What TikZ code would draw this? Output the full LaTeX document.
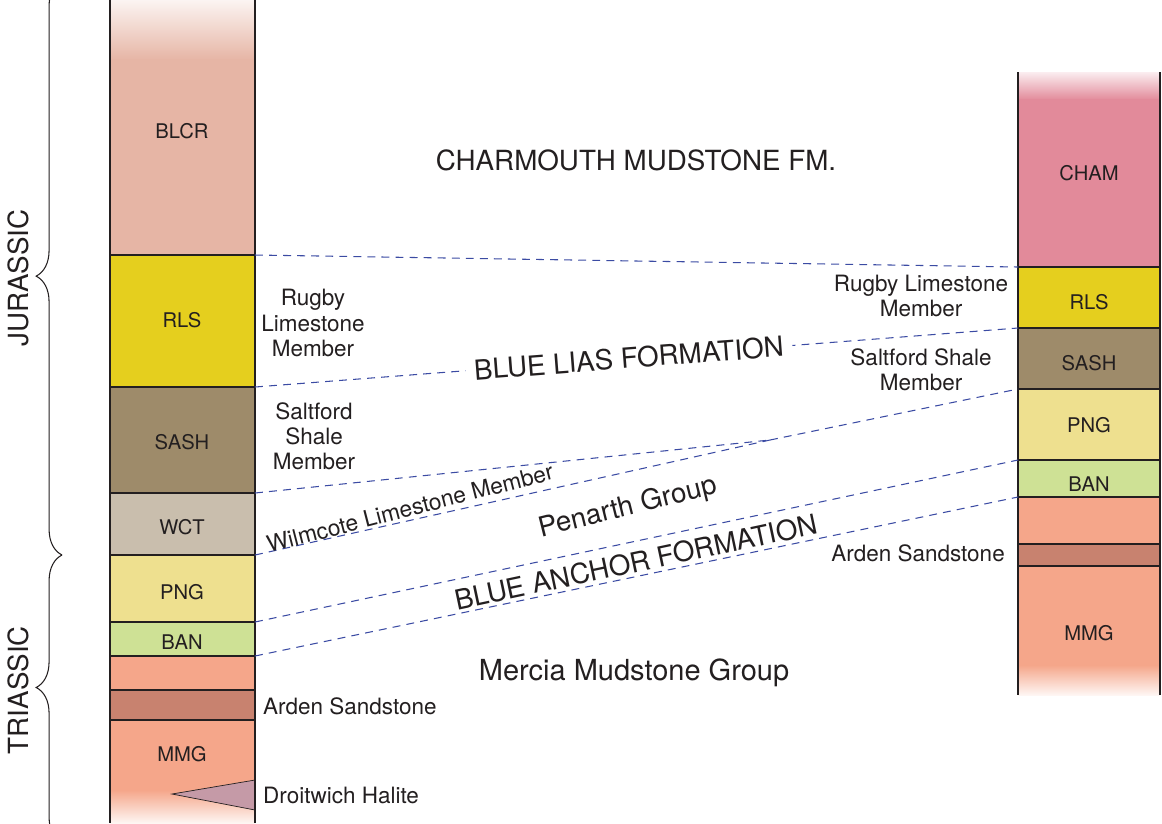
\documentclass[tikz,border=0pt]{standalone}
\usepackage{fontspec}
\setmainfont{TeX Gyre Heros}
\usetikzlibrary{calc,decorations.pathreplacing}

\definecolor{ink}{HTML}{231F20}
\definecolor{corrblue}{HTML}{3B4BA3}
\definecolor{blcr}{HTML}{E6B5A5}
\definecolor{cham}{HTML}{E28A9A}
\definecolor{rls}{HTML}{E5CF1E}
\definecolor{sash}{HTML}{9E8B6A}
\definecolor{wct}{HTML}{C9BEAD}
\definecolor{png}{HTML}{EEE08F}
\definecolor{ban}{HTML}{CEE195}
\definecolor{mmg}{HTML}{F5A68A}
\definecolor{arden}{HTML}{C8826F}
\definecolor{halite}{HTML}{C59AA7}

\begin{document}
\begin{tikzpicture}[x=0.02cm, y=-0.02cm,
    unitlbl/.style={font=\fontsize{11.5}{13}\selectfont, text=ink},
    note/.style={font=\fontsize{12.8}{14.3}\selectfont, text=ink, align=center},
    big/.style={font=\fontsize{15.8}{18}\selectfont, text=ink},
    corr/.style={draw=corrblue, line width=0.6pt, dash pattern=on 4.5pt off 3.5pt},
    edge/.style={draw=ink, line width=1.2pt},
    period/.style={draw=ink, line width=0.6pt, decorate}]
    \useasboundingbox (0,0) rectangle (1162,823);

    % left column
    \shade[top color=blcr!15, bottom color=blcr] (110,0) rectangle (255,60);
    \fill[blcr] (110,59) rectangle (255,255);
    \fill[rls] (110,255) rectangle (255,387);
    \fill[sash] (110,387) rectangle (255,493);
    \fill[wct] (110,493) rectangle (255,555);
    \fill[png] (110,555) rectangle (255,622);
    \fill[ban] (110,622) rectangle (255,656);
    \fill[mmg] (110,656) rectangle (255,690);
    \fill[arden] (110,690) rectangle (255,720);
    \fill[mmg] (110,720) rectangle (255,791);
    \shade[top color=mmg, bottom color=mmg!10] (110,790) rectangle (255,823);
    \filldraw[fill=halite, draw=ink, line width=0.4pt] (172,794) -- (255,780) -- (255,810) -- cycle;
    \draw[edge] (110,0) -- (110,823); \draw[edge] (255,0) -- (255,823);
    \draw[edge] (110,255) -- (255,255); \draw[edge] (110,387) -- (255,387); \draw[edge] (110,493) -- (255,493);
    \draw[edge] (110,555) -- (255,555); \draw[edge] (110,622) -- (255,622); \draw[edge] (110,656) -- (255,656);
    \draw[edge] (110,690) -- (255,690); \draw[edge] (110,720) -- (255,720);

    % right column
    \shade[top color=cham!15, bottom color=cham] (1018,72) rectangle (1160,100);
    \fill[cham] (1018,99) rectangle (1160,267);
    \fill[rls] (1018,267) rectangle (1160,328);
    \fill[sash] (1018,328) rectangle (1160,389);
    \fill[png] (1018,389) rectangle (1160,460);
    \fill[ban] (1018,460) rectangle (1160,497);
    \fill[mmg] (1018,497) rectangle (1160,544);
    \fill[arden] (1018,544) rectangle (1160,566);
    \fill[mmg] (1018,566) rectangle (1160,666);
    \shade[top color=mmg, bottom color=mmg!10] (1018,665) rectangle (1160,695);
    \draw[edge] (1018,72) -- (1018,695); \draw[edge] (1160,72) -- (1160,695);
    \draw[edge] (1018,267) -- (1160,267); \draw[edge] (1018,328) -- (1160,328); \draw[edge] (1018,389) -- (1160,389);
    \draw[edge] (1018,460) -- (1160,460); \draw[edge] (1018,497) -- (1160,497); \draw[edge] (1018,544) -- (1160,544);
    \draw[edge] (1018,566) -- (1160,566);

    % unit codes
    \node[unitlbl] (blcr) at (182,131) {BLCR};
    \node[unitlbl] (rlsL) at (182,320) {RLS};
    \node[unitlbl] (sashL) at (182,442) {SASH};
    \node[unitlbl] (wct) at (182,527) {WCT};
    \node[unitlbl] (pngL) at (182,592) {PNG};
    \node[unitlbl] (banL) at (182,642) {BAN};
    \node[unitlbl] (mmgL) at (182,754) {MMG};
    \node[unitlbl] (cham) at (1089,173) {CHAM};
    \node[unitlbl] (rlsR) at (1089,302) {RLS};
    \node[unitlbl] (sashR) at (1089,363) {SASH};
    \node[unitlbl] (pngR) at (1089,425) {PNG};
    \node[unitlbl] (banR) at (1089,484) {BAN};
    \node[unitlbl] (mmgR) at (1089,633) {MMG};

    % correlation lines
    \coordinate (L1) at (255,255); \coordinate (R1) at (1018,267);
    \coordinate (L2) at (255,387); \coordinate (R2) at (1018,328);
    \coordinate (L3) at (255,493); \coordinate (L4) at (255,555);
    \coordinate (pinch) at (770,440); \coordinate (R3) at (1018,389);
    \coordinate (L5) at (255,622); \coordinate (R5) at (1018,460);
    \coordinate (L6) at (255,656); \coordinate (R6) at (1018,497);
    \draw[corr] (L1) -- (R1);
    \draw[corr] (L2) -- node[pos=0.49, sloped, fill=white, inner xsep=5pt, big] (blf) {BLUE LIAS FORMATION} (R2);
    \draw[corr] (L3) -- (pinch); \draw[corr] (L4) -- (pinch); \draw[corr] (pinch) -- (R3);
    \draw[corr] (L5) -- (R5); \draw[corr] (L6) -- (R6);

    % names
    \node[big] (charm) at (636,160) {CHARMOUTH MUDSTONE FM.};
    \node[big, font=\fontsize{16.5}{18}\selectfont] (mercia) at (634,673) {Mercia Mudstone Group};
    \node[big, rotate=14] (penarth) at (628,508) {Penarth Group};
    \node[big, rotate=12] (baf) at (636,562) {BLUE ANCHOR FORMATION};
    \node[note, font=\fontsize{13}{15}\selectfont, rotate=14.5] (wilm) at (410,508) {Wilmcote Limestone Member};
    \node[note] (rugbyL) at (313,323) {Rugby\\Limestone\\Member};
    \node[note] (saltL) at (314,436) {Saltford\\Shale\\Member};
    \node[note] (rugbyR) at (921,296) {Rugby Limestone\\Member};
    \node[note] (saltR) at (921,370) {Saltford Shale\\Member};
    \node[note] (ardenR) at (918,553) {Arden Sandstone};
    \node[note, anchor=west] (ardenL) at (257,706) {Arden Sandstone};
    \node[note, anchor=west] (droit) at (257,795) {Droitwich Halite};

    % periods
    \draw[period, decoration={brace, amplitude=14.7pt, aspect=0.485}] (62,555) -- (62,-20);
    \draw[period, decoration={brace, amplitude=14.7pt, aspect=0.54}] (62,843) -- (62,555);
    \node[big, rotate=90] (jur) at (18,278) {JURASSIC};
    \node[big, rotate=90] (tri) at (18,690) {TRIASSIC};
\end{tikzpicture}
\end{document}
